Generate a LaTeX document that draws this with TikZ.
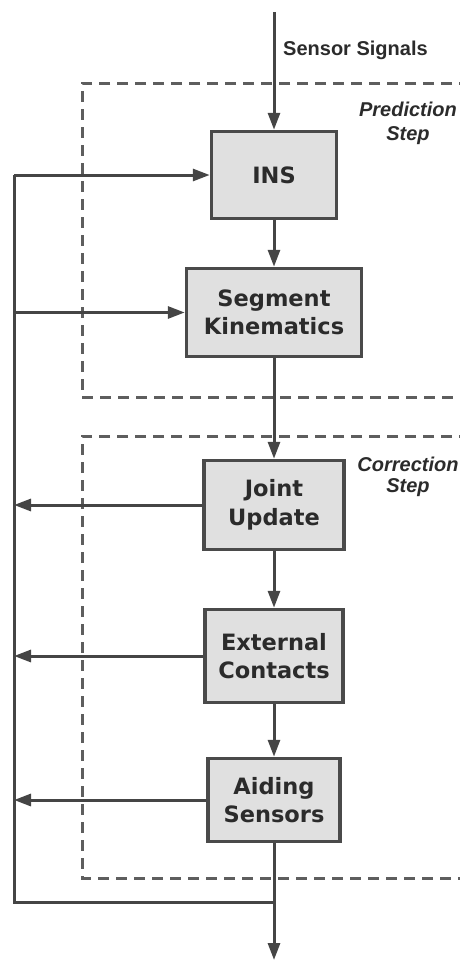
\documentclass[tikz,border=0pt]{standalone}
\usepackage{fontspec}
\usetikzlibrary{arrows.meta}
\newfontfamily\boxfont{DejaVu Sans}
\newfontfamily\lblfont{Liberation Sans}
\definecolor{lnc}{HTML}{454545}
\definecolor{boxc}{HTML}{4A4A4A}
\definecolor{boxf}{HTML}{E0E0E0}
\definecolor{txtc}{HTML}{2B2B2B}
\definecolor{dsh}{HTML}{5E5E5E}
\begin{document}
\begin{tikzpicture}[x=1pt,y=-1pt,
  blk/.style={draw=boxc, fill=boxf, line width=3.5pt, inner sep=0pt, align=center, text=txtc,
    font=\boxfont\bfseries\fontsize{22.5}{28.5}\selectfont},
  conn/.style={draw=lnc, line width=3pt},
  arr/.style={conn, -{Triangle[length=17pt,width=12pt]}},
  frame/.style={draw=dsh, line width=3pt, dash pattern=on 11pt off 7pt},
  lbl/.style={text=txtc, inner sep=0pt, font=\lblfont\bfseries\fontsize{20}{24}\selectfont},
  ilbl/.style={text=txtc, inner sep=0pt, align=center}]
\useasboundingbox (0,0) rectangle (460,961);
% frames
\draw[frame] (470,83) -- (82,83) -- (82,397) -- (470,397);
\draw[frame] (470,436) -- (82,436) -- (82,878) -- (470,878);
% blocks
\node[blk, minimum width=125pt, minimum height=87pt] (ins) at (274,175) {INS};
\node[blk, minimum width=175pt, minimum height=88pt] (seg) at (274,312.5) {Segment\\Kinematics};
\node[blk, minimum width=140pt, minimum height=89pt] (joint) at (274,505) {Joint\\Update};
\node[blk, minimum width=138pt, minimum height=93pt] (ext) at (274,656) {External\\Contacts};
\node[blk, minimum width=132pt, minimum height=83pt] (aid) at (274,800) {Aiding\\Sensors};
% coordinates
\coordinate (top) at (274,12);
\coordinate (join) at (274,902);
\coordinate (bot) at (274,960);
\coordinate (fbtop) at (14,175);
\coordinate (fbbot) at (14,902);
% main chain
\draw[arr] (top) -- (ins.north);
\draw[arr] (ins.south) -- (seg.north);
\draw[arr] (seg.south) -- (joint.north);
\draw[arr] (joint.south) -- (ext.north);
\draw[arr] (ext.south) -- (aid.north);
\draw[arr] (aid.south) -- (bot);
% feedback
\draw[conn] (join) -- (fbbot) -- (fbtop);
\draw[arr] (fbtop) -- (ins.west);
\draw[arr] (fbtop |- seg.west) -- (seg.west);
\draw[arr] (joint.west) -- (fbtop |- joint.west);
\draw[arr] (ext.west) -- (fbtop |- ext.west);
\draw[arr] (aid.west) -- (fbtop |- aid.west);
% labels
\node[lbl, anchor=base west] (sens) at (283,55) {Sensor Signals};
\node[ilbl, font=\lblfont\bfseries\itshape\fontsize{20}{24}\selectfont] (pred) at (408,123) {Prediction\\Step};
\node[ilbl, font=\lblfont\bfseries\itshape\fontsize{20}{21}\selectfont] (corr) at (408,476.5) {Correction\\Step};
\end{tikzpicture}
\end{document}
